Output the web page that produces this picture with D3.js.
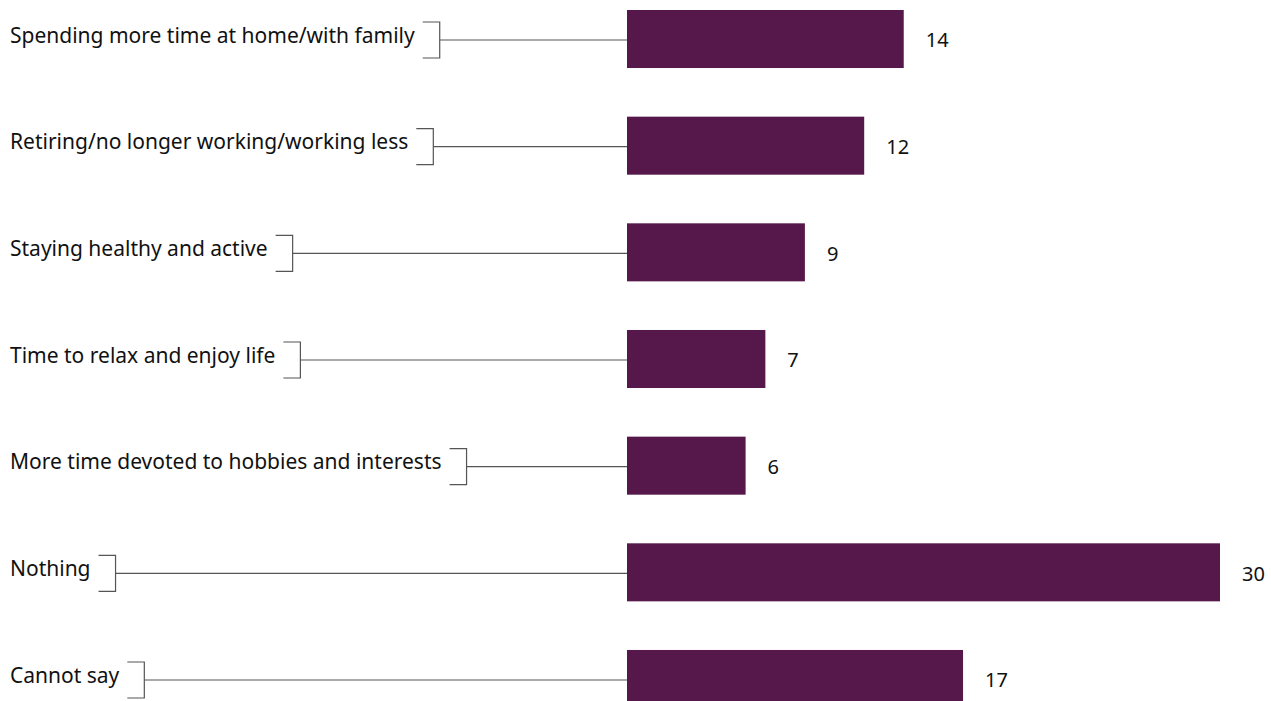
<!DOCTYPE html>
<html>
<head>
<meta charset="utf-8">
<script src="https://cdn.jsdelivr.net/npm/d3@7"></script>
<style>
  body { margin: 0; background: #fff; }
  text { font-family: "Noto Sans", sans-serif; fill: #111; }
</style>
</head>
<body>
<div id="chart"></div>
<script>
// horizontal bar chart with bracketed category labels

var categories = [
  "Spending more time at home/with family",
  "Retiring/no longer working/working less",
  "Staying healthy and active",
  "Time to relax and enjoy life",
  "More time devoted to hobbies and interests",
  "Nothing",
  "Cannot say"
];
var values = [14, 12, 9, 7, 6, 30, 17];

(function() {
  var width = 1271,
      height = 701;

  var svg = d3.select("#chart")
    .append("svg")
    .attr("width", width)
    .attr("height", height);

  var data = categories.map(function(c, i) {
    return { label: c, value: values[i] };
  });

  var xScale = d3.scaleLinear()
    .domain([0, 30])
    .range([627, 1220]);

  var yScale = d3.scaleBand()
    .domain(categories)
    .range([10, 708])
    .paddingInner(0.456)
    .paddingOuter(0);

  var row = svg.selectAll(".row")
    .data(data)
    .enter().append("g")
    .attr("class", "row");

  row.append("rect")
    .attr("x", xScale(0))
    .attr("y", function(d) { return yScale(d.label); })
    .attr("width", function(d) { return xScale(d.value) - xScale(0); })
    .attr("height", yScale.bandwidth())
    .attr("fill", "#56184b");

  row.append("text")
    .attr("class", "label")
    .attr("x", 10)
    .attr("y", function(d) { return yScale(d.label) + yScale.bandwidth() / 2 - 2; })
    .attr("dominant-baseline", "middle")
    .attr("font-size", 21)
    .text(function(d) { return d.label; });

  row.append("text")
    .attr("x", function(d) { return xScale(d.value) + 22; })
    .attr("y", function(d) { return yScale(d.label) + yScale.bandwidth() / 2 + 3; })
    .attr("dominant-baseline", "middle")
    .attr("font-size", 20)
    .text(function(d) { return d.value; });

  // brackets + leader lines
  row.each(function(d) {
    var g = d3.select(this);
    var textEnd = 10 + g.select(".label").node().getComputedTextLength();
    var bx = textEnd + 25;
    var cy = yScale(d.label) + yScale.bandwidth() / 2 + 1;
    g.append("path")
      .attr("d", "M" + (bx - 17) + "," + (cy - 18) + "H" + bx + "V" + (cy + 18) + "H" + (bx - 17))
      .attr("fill", "none")
      .attr("stroke", "#555")
      .attr("stroke-width", 1.2);
    g.append("line")
      .attr("x1", bx)
      .attr("x2", xScale(0))
      .attr("y1", cy)
      .attr("y2", cy)
      .attr("stroke", "#555")
      .attr("stroke-width", 1.2);
  });
})();
</script>
</body>
</html>
